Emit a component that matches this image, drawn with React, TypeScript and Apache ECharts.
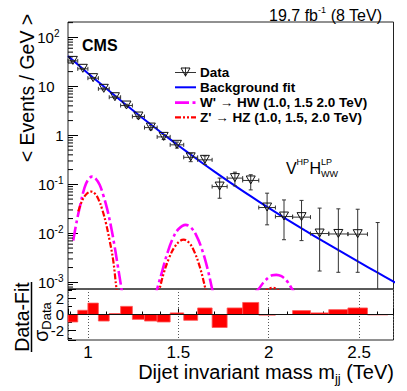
import React, { useEffect, useRef } from 'react';
import * as echarts from 'echarts';

const FONT = '"Liberation Sans", Arial, Helvetica, sans-serif';

// Dijet mass bin edges (TeV)
const binEdges = [0.890, 0.944, 1.000, 1.058, 1.118, 1.181, 1.246, 1.313, 1.383, 1.455, 1.530, 1.607, 1.687, 1.770, 1.856, 1.945, 2.037, 2.132, 2.231, 2.332, 2.438, 2.546, 2.659, 2.775];

// Data: < Events / GeV > per bin, with lower / upper error bounds
const dataValues = [33.1, 22.8, 14.7, 8.9, 6.0, 4.06, 2.42, 1.44, 0.93, 0.64, 0.356, 0.316, 0.090, 0.134, 0.120, 0.0336, 0.022, 0.0214, 0.0099, 0.0097, 0.0096, 0];
const dataLow = [32.3, 22.2, 14.2, 8.5, 5.7, 3.81, 2.23, 1.30, 0.82, 0.55, 0.29, 0.255, 0.052, 0.093, 0.077, 0.0149, 0.0074, 0.0071, 0.0017, 0.0016, 0.0016, 0];
const dataHigh = [33.9, 23.4, 15.2, 9.3, 6.3, 4.31, 2.61, 1.58, 1.04, 0.73, 0.43, 0.38, 0.134, 0.177, 0.157, 0.066, 0.048, 0.047, 0.0327, 0.0316, 0.031, 0.0166];

// Background fit curve
const fitMass = [0.89, 1.0, 1.1, 1.2, 1.3, 1.4, 1.5, 1.6, 1.7, 1.8, 1.9, 2.0, 2.1, 2.2, 2.3, 2.4, 2.5, 2.6, 2.7];
const fitValues = [41.7, 18.6, 9.12, 4.52, 2.29, 1.183, 0.621, 0.333, 0.182, 0.101, 0.0573, 0.0330, 0.0193, 0.01148, 0.00692, 0.00422, 0.00258, 0.00159, 0.00099];

// W' -> HW signal shapes (1.0, 1.5, 2.0 TeV)
const wprimeMass = [
  [0.919, 0.94, 0.96, 0.98, 1.0, 1.024, 1.045, 1.065, 1.085, 1.105, 1.125, 1.145, 1.165, 1.186, 1.2],
  [1.37, 1.383, 1.41, 1.44, 1.47, 1.5, 1.54, 1.57, 1.6, 1.63, 1.66, 1.687, 1.7],
  [1.92, 1.944, 1.97, 2.0, 2.02, 2.042, 2.07, 2.1, 2.129, 2.15],
];
const wprimeValues = [
  [0.0071, 0.019, 0.041, 0.082, 0.122, 0.144, 0.128, 0.098, 0.060, 0.033, 0.0155, 0.0062, 0.0022, 0.00072, 0.0003],
  [0.00045, 0.00073, 0.00164, 0.0040, 0.0079, 0.0121, 0.0149, 0.0131, 0.0090, 0.0048, 0.0020, 0.00073, 0.00045],
  [0.0006, 0.00073, 0.00098, 0.00126, 0.00139, 0.00142, 0.00133, 0.00107, 0.00073, 0.00055],
];

// Z' -> HZ signal shapes (1.0, 1.5, 2.0 TeV)
const zprimeMass = [
  [0.947, 0.97, 0.995, 1.019, 1.04, 1.06, 1.08, 1.1, 1.12, 1.14, 1.158, 1.17],
  [1.38, 1.396, 1.42, 1.45, 1.48, 1.51, 1.53, 1.56, 1.59, 1.62, 1.65, 1.665],
  [1.97, 1.99, 2.01, 2.025, 2.045, 2.065],
];
const zprimeValues = [
  [0.028, 0.048, 0.065, 0.071, 0.064, 0.048, 0.030, 0.016, 0.0072, 0.0028, 0.00075, 0.0004],
  [0.00045, 0.00073, 0.00156, 0.0032, 0.0053, 0.0070, 0.0074, 0.0064, 0.0041, 0.0020, 0.00073, 0.0004],
  [0.0006, 0.0007, 0.00076, 0.00077, 0.00072, 0.00062],
];

// (Data - Fit) / sigma_Data per bin
const pulls = [-0.94, 0.53, 1.43, -0.82, 0.12, 1.02, -0.61, -0.82, -0.94, 0.20, -0.73, 0.82, -1.63, 0.82, 1.51, -0.08, 0, 0.49, 0.20, 0.61, 0.82, -0.05, 0];

const X_MIN = 0.89;
const X_MAX = 2.69;
const Y_MIN = 7.3e-4;
const Y_MAX = 206;
const P_MIN = -3.2;
const P_MAX = 3.2;

const MAGENTA = '#ff00ff';
const RED = '#ff0000';
const BLUE = '#0000ff';
const W_DASH = [14, 3.5, 3, 3.5];
const Z_DASH = [6, 2, 2, 2, 2, 2];

function buildOption(): any {
  const minorVals: number[][] = [];
  for (let e = -4; e <= 2; e++) {
    for (let k = 2; k <= 9; k++) {
      const v = k * Math.pow(10, e);
      if (v > Y_MIN && v < Y_MAX) minorVals.push([X_MIN, v]);
    }
  }

  const dataItems = dataValues.map((v, i) => [binEdges[i], binEdges[i + 1], v, dataLow[i], dataHigh[i]]);
  const pullItems = pulls.map((p, i) => [binEdges[i], binEdges[i + 1], p]);

  const signalSeries: any[] = [];
  wprimeMass.forEach((ms, s) => {
    signalSeries.push({
      type: 'line', xAxisIndex: 0, yAxisIndex: 0, symbol: 'none', smooth: 0.4, clip: true, silent: true, z: 4,
      lineStyle: { color: MAGENTA, width: 2.6, type: W_DASH },
      data: ms.map((m, i) => [m, wprimeValues[s][i]]),
    });
  });
  zprimeMass.forEach((ms, s) => {
    signalSeries.push({
      type: 'line', xAxisIndex: 0, yAxisIndex: 0, symbol: 'none', smooth: 0.4, clip: true, silent: true, z: 5,
      lineStyle: { color: RED, width: 2.2, type: Z_DASH },
      data: ms.map((m, i) => [m, zprimeValues[s][i]]),
    });
  });

  const legendRows = [72.5, 87.3, 102.6, 117.4];
  const lx1 = 175, lx2 = 196, tx = 200;
  const legendText = (y: number, text: string) => ({
    type: 'text', x: tx, y,
    style: { text, fontFamily: FONT, fontWeight: 'bold', fontSize: 13.5, fill: '#000', align: 'left', verticalAlign: 'middle' },
  });

  return {
    animation: false,
    backgroundColor: '#ffffff',
    textStyle: { fontFamily: FONT },
    grid: [
      { left: 68, top: 22, width: 325.5, height: 267, show: true, borderColor: '#222', borderWidth: 1, backgroundColor: 'transparent', outerBoundsMode: 'none', containLabel: false },
      { left: 68, top: 289, width: 325.5, height: 51, show: true, borderColor: '#222', borderWidth: 1, backgroundColor: 'transparent', outerBoundsMode: 'none', containLabel: false },
    ],
    xAxis: [
      {
        type: 'value', gridIndex: 0, min: X_MIN, max: X_MAX, splitNumber: 4,
        axisLine: { show: false }, axisTick: { show: false }, axisLabel: { show: false }, splitLine: { show: false },
      },
      {
        type: 'value', gridIndex: 1, min: X_MIN, max: X_MAX, splitNumber: 4,
        axisLine: { show: false },
        axisTick: { show: true, inside: true, length: 6, lineStyle: { color: '#000', width: 1 } },
        minorTick: { show: true, splitNumber: 5, length: 3, lineStyle: { color: '#000', width: 1 } },
        axisLabel: { show: true, fontSize: 17, color: '#000', fontFamily: FONT, margin: 4, showMinLabel: false, showMaxLabel: false },
        splitLine: { show: true, lineStyle: { color: '#555', width: 1, type: [1, 2] } },
      },
    ],
    yAxis: [
      {
        type: 'log', logBase: 10, gridIndex: 0, min: Y_MIN, max: Y_MAX,
        axisLine: { show: false },
        axisTick: { show: true, inside: true, length: 10, lineStyle: { color: '#000', width: 1 } },
        splitLine: { show: false },
        axisLabel: {
          show: true, fontSize: 15, color: '#000', fontFamily: FONT, margin: 4.5, lineHeight: 18,
          showMinLabel: false, showMaxLabel: false,
          formatter: (v: number) => {
            const e = Math.round(Math.log10(v));
            if (e === 0) return '1';
            if (e === 1) return '10{sp| }';
            return '10{sup|' + e + '}' + (e > 0 ? '{sp2| }' : '');
          },
          rich: {
            sup: { fontSize: 10, lineHeight: 10, verticalAlign: 'top', fontFamily: FONT, color: '#000' },
            sp: { width: 9, fontSize: 10 },
            sp2: { width: 4, fontSize: 10 },
          },
        },
      },
      {
        type: 'value', gridIndex: 1, min: P_MIN, max: P_MAX, splitNumber: 3,
        axisLine: { show: false },
        axisTick: { show: true, inside: true, length: 8, lineStyle: { color: '#000', width: 1 } },
        minorTick: { show: true, splitNumber: 2, length: 4, lineStyle: { color: '#000', width: 1 } },
        splitLine: { show: false },
        axisLabel: { show: true, fontSize: 15, color: '#000', fontFamily: FONT, margin: 4, showMinLabel: false, showMaxLabel: false },
      },
    ],
    series: [
      // minor log ticks on main panel
      {
        type: 'custom', xAxisIndex: 0, yAxisIndex: 0, silent: true, z: 6,
        encode: { x: 0, y: 1 },
        data: minorVals,
        renderItem: (params: any, api: any) => {
          const p = api.coord([api.value(0), api.value(1)]);
          const cs = params.coordSys;
          return { type: 'line', shape: { x1: cs.x, y1: p[1], x2: cs.x + 5, y2: p[1] }, style: { stroke: '#000', lineWidth: 1 } };
        },
      },
      // background fit
      {
        type: 'line', xAxisIndex: 0, yAxisIndex: 0, symbol: 'none', smooth: 0.3, clip: true, silent: true, z: 3,
        lineStyle: { color: BLUE, width: 2 },
        data: fitMass.map((m, i) => [m, fitValues[i]]),
      },
      ...signalSeries,
      // data points with error bars
      {
        type: 'custom', xAxisIndex: 0, yAxisIndex: 0, silent: true, z: 7,
        encode: { x: [0, 1], y: [4] },
        data: dataItems,
        renderItem: (params: any, api: any) => {
          const lo = api.value(0), hi = api.value(1), v = api.value(2), el = api.value(3), eh = api.value(4);
          const cs = params.coordSys;
          const cx = (lo + hi) / 2;
          const stroke = '#333';
          const children: any[] = [];
          const top = api.coord([cx, eh]);
          const xpx = top[0];
          const botY = el > 0 ? api.coord([cx, el])[1] : cs.y + cs.height;
          children.push({ type: 'line', shape: { x1: xpx, y1: top[1], x2: xpx, y2: botY }, style: { stroke, lineWidth: 1 } });
          children.push({ type: 'line', shape: { x1: xpx - 2, y1: top[1], x2: xpx + 2, y2: top[1] }, style: { stroke, lineWidth: 1 } });
          if (el > 0) {
            children.push({ type: 'line', shape: { x1: xpx - 2, y1: botY, x2: xpx + 2, y2: botY }, style: { stroke, lineWidth: 1 } });
          }
          if (v > 0) {
            const c = api.coord([cx, v]);
            const l = api.coord([lo, v]);
            const r = api.coord([hi, v]);
            children.push({ type: 'line', shape: { x1: l[0], y1: c[1], x2: r[0], y2: c[1] }, style: { stroke, lineWidth: 1 } });
            children.push({ type: 'line', shape: { x1: l[0], y1: c[1] - 2, x2: l[0], y2: c[1] + 2 }, style: { stroke, lineWidth: 1 } });
            children.push({ type: 'line', shape: { x1: r[0], y1: c[1] - 2, x2: r[0], y2: c[1] + 2 }, style: { stroke, lineWidth: 1 } });
            children.push({
              type: 'polygon',
              shape: { points: [[c[0] - 4.5, c[1] - 4.5], [c[0] + 4.5, c[1] - 4.5], [c[0], c[1] + 3.5]] },
              style: { fill: 'none', stroke: '#111', lineWidth: 1 },
            });
          }
          return { type: 'group', children };
        },
      },
      // pulls
      {
        type: 'custom', xAxisIndex: 1, yAxisIndex: 1, silent: true, z: 3,
        encode: { x: [0, 1], y: 2 },
        data: pullItems,
        renderItem: (params: any, api: any) => {
          const lo = api.value(0), hi = api.value(1), p = api.value(2);
          const cs = params.coordSys;
          const a = api.coord([lo, p]);
          const b = api.coord([hi, 0]);
          const rect = echarts.graphic.clipRectByRect(
            { x: a[0], y: Math.min(a[1], b[1]), width: b[0] - a[0], height: Math.abs(b[1] - a[1]) },
            { x: cs.x, y: cs.y, width: cs.width, height: cs.height }
          );
          if (!rect || rect.height <= 0) return null;
          return { type: 'rect', shape: rect, style: { fill: RED, stroke: '#ff5555', lineWidth: 0.8 } };
        },
        markLine: {
          silent: true, symbol: 'none', label: { show: false },
          lineStyle: { color: '#111', width: 1, type: 'solid' },
          data: [{ yAxis: 0 }],
        },
      },
    ],
    graphic: [
      {
        type: 'text', x: 382, y: 15,
        style: {
          text: '19.7 fb{sup|-1} (8 TeV)', fontFamily: FONT, fontSize: 16, fill: '#000', align: 'right', verticalAlign: 'middle', lineHeight: 19,
          rich: { sup: { fontSize: 9, lineHeight: 9, verticalAlign: 'top', fontFamily: FONT, fill: '#000' } },
        },
      },
      {
        type: 'text', x: 82, y: 45,
        style: { text: 'CMS', fontFamily: FONT, fontWeight: 'bold', fontSize: 16, fill: '#000', align: 'left', verticalAlign: 'middle' },
      },
      {
        type: 'text', x: 27, y: 88, rotation: Math.PI / 2,
        style: { text: '< Events / GeV >', fontFamily: FONT, fontSize: 19.5, fill: '#000', align: 'center', verticalAlign: 'middle' },
      },
      // legend
      { type: 'line', shape: { x1: lx1, y1: legendRows[0], x2: lx2, y2: legendRows[0] }, style: { stroke: '#333', lineWidth: 1 } },
      { type: 'line', shape: { x1: 185.5, y1: legendRows[0] - 5, x2: 185.5, y2: legendRows[0] + 4 }, style: { stroke: '#333', lineWidth: 1 } },
      {
        type: 'polygon',
        shape: { points: [[181, legendRows[0] - 4.5], [190, legendRows[0] - 4.5], [185.5, legendRows[0] + 3.5]] },
        style: { fill: 'none', stroke: '#111', lineWidth: 1 },
      },
      { type: 'line', shape: { x1: lx1, y1: legendRows[1], x2: lx2, y2: legendRows[1] }, style: { stroke: BLUE, lineWidth: 2 } },
      { type: 'line', shape: { x1: lx1, y1: legendRows[2], x2: lx2, y2: legendRows[2] }, style: { stroke: MAGENTA, lineWidth: 2.6, lineDash: W_DASH } },
      { type: 'line', shape: { x1: lx1, y1: legendRows[3], x2: lx2, y2: legendRows[3] }, style: { stroke: RED, lineWidth: 2.2, lineDash: Z_DASH } },
      legendText(legendRows[0], 'Data'),
      legendText(legendRows[1], 'Background fit'),
      legendText(legendRows[2], "W' \u2192 HW (1.0, 1.5 2.0 TeV)"),
      legendText(legendRows[3], "Z' \u2192 HZ (1.0, 1.5, 2.0 TeV)"),
      // category label V^HP H^LP_WW
      { type: 'text', x: 286, y: 168, style: { text: 'V', fontFamily: FONT, fontSize: 16, fill: '#000', align: 'left', verticalAlign: 'middle' } },
      { type: 'text', x: 296.5, y: 162, style: { text: 'HP', fontFamily: FONT, fontSize: 9, fill: '#000', align: 'left', verticalAlign: 'middle' } },
      { type: 'text', x: 309.5, y: 168, style: { text: 'H', fontFamily: FONT, fontSize: 16, fill: '#000', align: 'left', verticalAlign: 'middle' } },
      { type: 'text', x: 321, y: 162, style: { text: 'LP', fontFamily: FONT, fontSize: 9, fill: '#000', align: 'left', verticalAlign: 'middle' } },
      { type: 'text', x: 321, y: 174, style: { text: 'WW', fontFamily: FONT, fontSize: 9, fill: '#000', align: 'left', verticalAlign: 'middle' } },
      // ratio y title
      {
        type: 'text', x: 22, y: 317, rotation: Math.PI / 2,
        style: { text: 'Data-Fit', fontFamily: FONT, fontSize: 19.5, fill: '#000', align: 'center', verticalAlign: 'middle' },
      },
      { type: 'line', shape: { x1: 31.5, y1: 282, x2: 31.5, y2: 352 }, style: { stroke: '#000', lineWidth: 1.5 } },
      {
        type: 'text', x: 41, y: 322, rotation: Math.PI / 2,
        style: {
          text: '\u03c3{sub|Data}', fontFamily: FONT, fontSize: 19.5, fill: '#000', align: 'center', verticalAlign: 'middle', lineHeight: 24,
          rich: { sub: { fontSize: 13, lineHeight: 13, verticalAlign: 'bottom', fontFamily: FONT, fill: '#000' } },
        },
      },
      // x title
      {
        type: 'text', x: 394, y: 372,
        style: {
          text: 'Dijet invariant mass m{sub|jj} (TeV)', fontFamily: FONT, fontSize: 20, fill: '#000', align: 'right', verticalAlign: 'middle', lineHeight: 26,
          rich: { sub: { fontSize: 13, lineHeight: 13, verticalAlign: 'bottom', fontFamily: FONT, fill: '#000' } },
        },
      },
    ],
  };
}

export default function App() {
  const ref = useRef<HTMLDivElement>(null);
  useEffect(() => {
    if (!ref.current) return;
    const chart = echarts.init(ref.current, undefined, { renderer: 'svg' });
    chart.setOption(buildOption());
    return () => chart.dispose();
  }, []);
  return (
    <div
      ref={ref}
      style={{ position: 'fixed', left: 0, top: 0, width: 407, height: 391, background: '#fff' }}
    />
  );
}
